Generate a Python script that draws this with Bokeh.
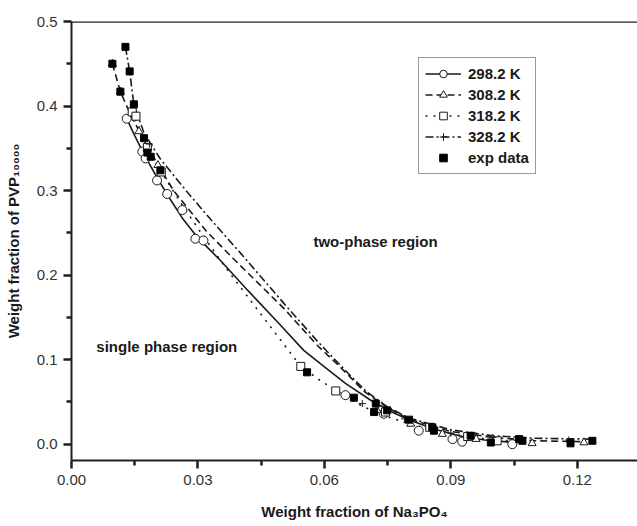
from bokeh.plotting import figure
from bokeh.models import Span, Label, Legend, LegendItem, FixedTicker, PrintfTickFormatter
from bokeh.embed import file_html
from bokeh.resources import INLINE

# ---------------- data ----------------
x_ticks = [0.00, 0.03, 0.06, 0.09, 0.12]
x_minor = [0.015, 0.045, 0.075, 0.105]
y_ticks = [0.0, 0.1, 0.2, 0.3, 0.4, 0.5]
y_minor = [0.05, 0.15, 0.25, 0.35, 0.45]

# 298.2 K (solid line, open circles)
t298_curve_x = [0.0131, 0.0150, 0.0170, 0.0200, 0.0230, 0.0265, 0.0300, 0.0354, 0.0420, 0.0490,
                0.0551, 0.0589, 0.0650, 0.0710, 0.0760, 0.0805, 0.0860, 0.0920, 0.0980, 0.1050]
t298_curve_y = [0.385, 0.365, 0.345, 0.318, 0.293, 0.266, 0.244, 0.217, 0.181, 0.144,
                0.111, 0.096, 0.072, 0.052, 0.038, 0.028, 0.018, 0.010, 0.005, 0.002]
t298_pts_x = [0.0131, 0.0168, 0.0176, 0.0203, 0.0227, 0.0263, 0.0294, 0.0313, 0.0650, 0.0741,
              0.0824, 0.0904, 0.0927, 0.1046]
t298_pts_y = [0.385, 0.346, 0.338, 0.312, 0.296, 0.277, 0.243, 0.241, 0.058, 0.036,
              0.016, 0.006, 0.003, 0.000]

# 308.2 K (dashed line, open triangles)
t308_curve_x = [0.0097, 0.0116, 0.0140, 0.0180, 0.0242, 0.0320, 0.0385, 0.0505, 0.0583, 0.0630,
                0.0662, 0.0693, 0.0750, 0.0800, 0.0900, 0.1000, 0.1100, 0.1216]
t308_curve_y = [0.450, 0.417, 0.390, 0.352, 0.300, 0.252, 0.219, 0.160, 0.117, 0.095,
                0.079, 0.063, 0.043, 0.030, 0.015, 0.008, 0.004, 0.003]
t308_pts_x = [0.0097, 0.0116, 0.0160, 0.0205, 0.0725, 0.0805, 0.0880, 0.0960, 0.1093, 0.1216]
t308_pts_y = [0.450, 0.417, 0.370, 0.330, 0.040, 0.024, 0.012, 0.006, 0.001, 0.002]

# 318.2 K (dotted line, open squares)
t318_curve_x = [0.0144, 0.0180, 0.0213, 0.0260, 0.0310, 0.0370, 0.0440, 0.0504, 0.0544, 0.0591,
                0.0640, 0.0686, 0.0730, 0.0800, 0.0900, 0.1000, 0.1080]
t318_curve_y = [0.393, 0.351, 0.322, 0.285, 0.248, 0.206, 0.160, 0.118, 0.092, 0.075,
                0.060, 0.046, 0.036, 0.024, 0.012, 0.005, 0.003]
t318_pts_x = [0.0144, 0.0153, 0.0180, 0.0213, 0.0544, 0.0627, 0.0745, 0.0850, 0.0940, 0.1010]
t318_pts_y = [0.393, 0.388, 0.351, 0.322, 0.092, 0.063, 0.038, 0.020, 0.009, 0.004]

# 328.2 K (dash-dot line, crosses)
t328_curve_x = [0.0128, 0.0138, 0.0148, 0.0172, 0.0210, 0.0275, 0.0330, 0.0401, 0.0505, 0.0583,
                0.0625, 0.0662, 0.0700, 0.0750, 0.0800, 0.0900, 0.1000, 0.1100, 0.1236]
t328_curve_y = [0.470, 0.441, 0.402, 0.368, 0.338, 0.298, 0.266, 0.226, 0.166, 0.122,
                0.100, 0.081, 0.062, 0.044, 0.031, 0.017, 0.010, 0.007, 0.006]
t328_pts_x = [0.0128, 0.0148, 0.0185, 0.0690, 0.0790, 0.0900, 0.1000, 0.1180]
t328_pts_y = [0.470, 0.402, 0.355, 0.048, 0.030, 0.013, 0.008, 0.005]

# experimental data (filled squares)
exp_x = [0.0097, 0.0116, 0.0128, 0.0138, 0.0148, 0.0172, 0.0180, 0.0188, 0.0211, 0.0559,
         0.0670, 0.0718, 0.0722, 0.0749, 0.0801, 0.0856, 0.0860, 0.0947, 0.0995, 0.1062,
         0.1070, 0.1184, 0.1236]
exp_y = [0.450, 0.417, 0.470, 0.441, 0.402, 0.362, 0.345, 0.340, 0.324, 0.085,
         0.055, 0.038, 0.048, 0.040, 0.029, 0.020, 0.016, 0.010, 0.002, 0.006,
         0.004, 0.001, 0.004]

labels = ["298.2 K", "308.2 K", "318.2 K", "328.2 K", "exp data"]

# ---------------- figure ----------------
FONT = "Liberation Sans"
INK = "#1a1a1a"
AX = "#1f1f1f"

p = figure(width=637, height=526, x_range=(0.0, 0.1343), y_range=(-0.0193, 0.5),
           output_backend="svg", toolbar_location=None,
           min_border_left=71, min_border_right=0, min_border_top=21, min_border_bottom=66)
p.outline_line_color = None
p.grid.visible = False
p.background_fill_color = "white"

p.axis.axis_line_width = 2
p.axis.axis_line_color = AX
p.axis.major_tick_line_width = 2.5
p.axis.minor_tick_line_width = 2.5
p.axis.major_tick_line_color = AX
p.axis.minor_tick_line_color = AX
p.axis.major_tick_in = 0
p.axis.major_tick_out = 8
p.axis.minor_tick_in = 0
p.axis.minor_tick_out = 5
p.axis.major_label_text_font = FONT
p.axis.major_label_text_font_size = "15px"
p.axis.major_label_text_color = "#333333"
p.axis.axis_label_text_font = FONT
p.axis.axis_label_text_font_size = "15px"
p.axis.axis_label_text_font_style = "bold"
p.axis.axis_label_text_color = INK

p.xaxis.ticker = FixedTicker(ticks=x_ticks, minor_ticks=x_minor)
p.yaxis.ticker = FixedTicker(ticks=y_ticks, minor_ticks=y_minor)
p.xaxis.formatter = PrintfTickFormatter(format="%.2f")
p.yaxis.formatter = PrintfTickFormatter(format="%.1f")
p.xaxis.axis_label = "Weight fraction of Na\u2083PO\u2084"
p.yaxis.axis_label = "Weight fraction of PVP\u2081\u2080\u2080\u2080\u2080"
p.xaxis.major_label_standoff = 6
p.yaxis.major_label_standoff = 6
p.xaxis.axis_label_standoff = 15
p.yaxis.axis_label_standoff = 12

# top frame line
p.add_layout(Span(location=0.5, dimension="width", line_color=AX, line_width=2.5))

# curves
l298 = p.line(t298_curve_x, t298_curve_y, line_color=INK, line_width=1.6)
l308 = p.line(t308_curve_x, t308_curve_y, line_color=INK, line_width=1.6, line_dash="7 4")
l318 = p.line(t318_curve_x, t318_curve_y, line_color=INK, line_width=1.6, line_dash="2 6")
l328 = p.line(t328_curve_x, t328_curve_y, line_color=INK, line_width=1.6, line_dash="8 3 2 3")

s298 = p.scatter(t298_pts_x, t298_pts_y, marker="circle", size=9, fill_color="white",
                 line_color=INK, line_width=1)
s308 = p.scatter(t308_pts_x, t308_pts_y, marker="triangle", size=8, fill_color="white",
                 line_color=INK, line_width=1)
s318 = p.scatter(t318_pts_x, t318_pts_y, marker="square", size=8, fill_color="white",
                 line_color=INK, line_width=1)
s328 = p.scatter(t328_pts_x, t328_pts_y, marker="cross", size=7, line_color=INK, line_width=1)
sexp = p.scatter(exp_x, exp_y, marker="square", size=7, fill_color="black", line_color="black")

legend = Legend(items=[
    LegendItem(label=labels[0], renderers=[l298, s298]),
    LegendItem(label=labels[1], renderers=[l308, s308]),
    LegendItem(label=labels[2], renderers=[l318, s318]),
    LegendItem(label=labels[3], renderers=[l328, s328]),
    LegendItem(label=labels[4], renderers=[sexp]),
], location=(347, 286))
legend.label_text_font = FONT
legend.label_text_font_size = "15px"
legend.label_text_font_style = "bold"
legend.label_text_color = INK
legend.glyph_width = 36
legend.glyph_height = 19
legend.label_height = 19
legend.label_standoff = 7
legend.spacing = 2
legend.padding = 6
legend.margin = 0
legend.border_line_color = "#333333"
legend.border_line_width = 1
legend.background_fill_alpha = 1
p.add_layout(legend, "center")

p.add_layout(Label(x=0.0574, y=0.24, text="two-phase region", text_font=FONT,
                   text_font_size="15px", text_font_style="bold", text_color=INK,
                   text_baseline="middle"))
p.add_layout(Label(x=0.0059, y=0.1156, text="single phase region", text_font=FONT,
                   text_font_size="15px", text_font_style="bold", text_color=INK,
                   text_baseline="middle"))

open("out.html", "w").write(file_html(p, INLINE))
